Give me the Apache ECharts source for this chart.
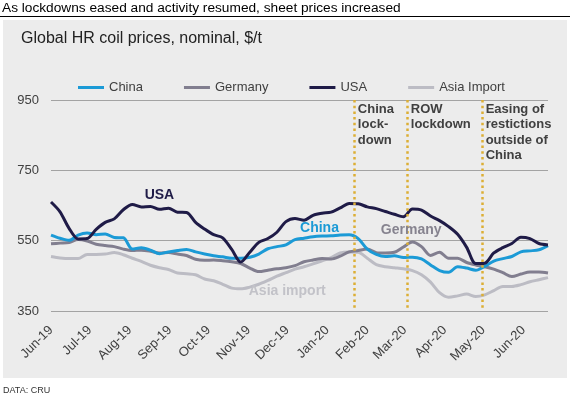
<!DOCTYPE html>
<html>
<head>
<meta charset="utf-8">
<script src="https://cdn.jsdelivr.net/npm/echarts@6/dist/echarts.min.js"></script>
<style>
html,body{margin:0;padding:0;background:#fff;}
#chart{width:570px;height:397px;}
</style>
</head>
<body>
<div id="chart"></div>
<script>
// ---- data ----
const weeks = [
 '2019-06-01','2019-06-08','2019-06-15','2019-06-22','2019-06-29',
 '2019-07-06','2019-07-13','2019-07-20','2019-07-27',
 '2019-08-03','2019-08-10','2019-08-17','2019-08-24','2019-08-31',
 '2019-09-07','2019-09-14','2019-09-21','2019-09-28',
 '2019-10-05','2019-10-12','2019-10-19','2019-10-26',
 '2019-11-02','2019-11-09','2019-11-16','2019-11-23','2019-11-30',
 '2019-12-07','2019-12-14','2019-12-21','2019-12-28',
 '2020-01-04','2020-01-11','2020-01-18','2020-01-25',
 '2020-02-01','2020-02-08','2020-02-15','2020-02-22','2020-02-29',
 '2020-03-07','2020-03-14','2020-03-21','2020-03-28',
 '2020-04-04','2020-04-11','2020-04-18','2020-04-25',
 '2020-05-02','2020-05-09','2020-05-16','2020-05-23','2020-05-30',
 '2020-06-06','2020-06-13','2020-06-20'
];
const china = [566,557,551,566,572,567,569,559,558,526,530,523,513,518,522,525,518,512,507,504,
 500,500,503,512,527,533,538,553,557,561,563,564,566,567,556,526,511,505,507,502,
 503,498,481,465,460,476,472,466,477,492,499,505,518,521,524,536];
const germany = [541,543,545,553,549,540,536,533,526,522,523,520,515,516,512,508,497,494,495,493,
 490,485,472,462,466,470,473,479,490,495,499,498,506,518,522,526,516,515,517,532,
 546,533,508,517,500,500,488,481,476,469,459,448,455,461,461,458];
const usa = [660,632,585,555,556,582,602,612,638,653,646,647,639,642,631,630,602,583,567,558,
 525,489,517,545,556,574,604,613,608,622,628,631,643,656,655,646,641,633,625,618,
 640,637,620,607,590,568,531,485,486,515,530,542,560,556,542,538];
const asiaImport = [505,501,499,499,511,511,512,516,510,500,491,480,473,468,458,456,453,441,436,426,
 415,413,418,426,437,449,459,469,476,484,493,502,515,518,517,500,482,476,473,470,
 465,453,432,402,389,393,398,391,396,408,420,420,425,433,439,445];

const monthStarts = ['2019-06-01','2019-07-01','2019-08-01','2019-09-01','2019-10-01','2019-11-01',
 '2019-12-01','2020-01-01','2020-02-01','2020-03-01','2020-04-01','2020-05-01','2020-06-01'];
const tickLabels = ['Jun-19','Jul-19','Aug-19','Sep-19','Oct-19','Nov-19','Dec-19',
 'Jan-20','Feb-20','Mar-20','Apr-20','May-20','Jun-20'];
const yTicks = [350, 550, 750, 950];

const eventDates = ['2020-01-22','2020-03-03','2020-04-30'];
const eventTexts = ['China\nlock-\ndown','ROW\nlockdown','Easing of\nrestictions\noutside of\nChina'];

const seriesNames = ['China','Germany','USA','Asia Import'];
const seriesColors = ['#1b9ad6','#817e8f','#1f1b47','#bcbcc4'];
const seriesLabelTexts = ['China','Germany','USA','Asia import'];
const seriesLabelColors = ['#1b9ad6','#86838f','#1f1b47','#c2c2c8'];
const seriesLabelAt = [['2019-12-26',587],['2020-03-06',581],['2019-08-24',679],['2019-12-01',407]];

// ---- helpers: dates -> day offset from the first week ----
function dayOf(s){
  const p = s.split('-').map(Number);
  const q = weeks[0].split('-').map(Number);
  return Math.round((Date.UTC(p[0], p[1]-1, p[2]) - Date.UTC(q[0], q[1]-1, q[2])) / 86400000);
}
const monthDays = monthStarts.map(dayOf);
const allValues = [china, germany, usa, asiaImport];
const FONT = 'Liberation Sans, Arial, sans-serif';

const series = seriesNames.map((name, k) => ({
  name: name,
  type: 'line',
  symbol: 'none',
  smooth: 0.3,
  z: [3,2,4,1][k],
  lineStyle: { width: 3, color: seriesColors[k] },
  itemStyle: { color: seriesColors[k] },
  data: weeks.map((d, i) => [dayOf(d), allValues[k][i]]),
  markPoint: {
    silent: true,
    symbol: 'rect', symbolSize: 1,
    itemStyle: { color: 'rgba(0,0,0,0)' },
    data: [{
      coord: [dayOf(seriesLabelAt[k][0]), seriesLabelAt[k][1]],
      label: {
        show: true, position: 'inside', formatter: seriesLabelTexts[k],
        color: seriesLabelColors[k], fontSize: 14, fontWeight: 'bold', fontFamily: FONT
      }
    }]
  }
}));

// event lines + texts on the USA series
series[2].markLine = {
  silent: true, symbol: 'none', animation: false,
  label: { show: false },
  lineStyle: { color: '#dcae35', width: 2.5, type: [2.5, 3.2], cap: 'butt' },
  data: eventDates.map(d => [{ coord: [dayOf(d), yTicks[yTicks.length-1]] }, { coord: [dayOf(d), yTicks[0]] }])
};
series[2].markPoint.data = series[2].markPoint.data.concat(eventDates.map((d, i) => ({
  coord: [dayOf(d), yTicks[yTicks.length-1]],
  label: {
    show: true, position: [4, 2], align: 'left', verticalAlign: 'top',
    formatter: eventTexts[i], color: '#404040', fontSize: 13, fontWeight: 'bold',
    lineHeight: 15.5, fontFamily: FONT
  }
})));

const chart = echarts.init(document.getElementById('chart'), null, { renderer: 'canvas' });
chart.setOption({
  animation: false,
  backgroundColor: '#ffffff',
  textStyle: { fontFamily: FONT },
  title: {
    text: 'Global HR coil prices, nominal, $/t',
    left: 21, top: 31, padding: 0,
    textStyle: { fontSize: 16, fontWeight: 'normal', color: '#222222', fontFamily: FONT }
  },
  legend: {
    data: seriesNames,
    left: 73, top: 76,
    icon: 'rect',
    itemWidth: 26, itemHeight: 3, itemGap: 41,
    textStyle: { fontSize: 13, color: '#404040' }
  },
  graphic: [
    { type: 'rect', z: -10, silent: true, shape: { x: 3, y: 20, width: 564, height: 358 }, style: { fill: '#ececec' } },
    { type: 'line', z: -5, silent: true, shape: { x1: 0, y1: 16.5, x2: 570, y2: 16.5 }, style: { stroke: '#000', lineWidth: 1 } },
    { type: 'text', left: 2, top: 1, silent: true,
      style: { text: 'As lockdowns eased and activity resumed, sheet prices increased', fontSize: 13.7, fill: '#000', fontFamily: FONT } },
    { type: 'text', left: 3, top: 386, silent: true,
      style: { text: 'DATA: CRU', fontSize: 9, fill: '#333', fontFamily: FONT } }
  ],
  grid: { left: 51, right: 22, top: 100, bottom: 86 },
  xAxis: {
    type: 'value',
    min: 0, max: dayOf(weeks[weeks.length-1]),
    axisLine: { show: false },
    axisTick: { show: false },
    splitLine: { show: false },
    axisLabel: {
      customValues: monthDays,
      rotate: 45, margin: 17, fontSize: 13, color: '#404040',
      hideOverlap: false, showMinLabel: true, showMaxLabel: true,
      formatter: function (v) { const i = monthDays.indexOf(v); return i >= 0 ? tickLabels[i] : ''; }
    }
  },
  yAxis: {
    type: 'value', min: yTicks[0], max: yTicks[yTicks.length-1], interval: 200,
    axisLine: { show: false }, axisTick: { show: false },
    splitLine: { lineStyle: { color: '#a3a3a3', width: 1 } },
    axisLabel: { fontSize: 13, color: '#404040', margin: 12 }
  },
  series: series
});
</script>
</body>
</html>
